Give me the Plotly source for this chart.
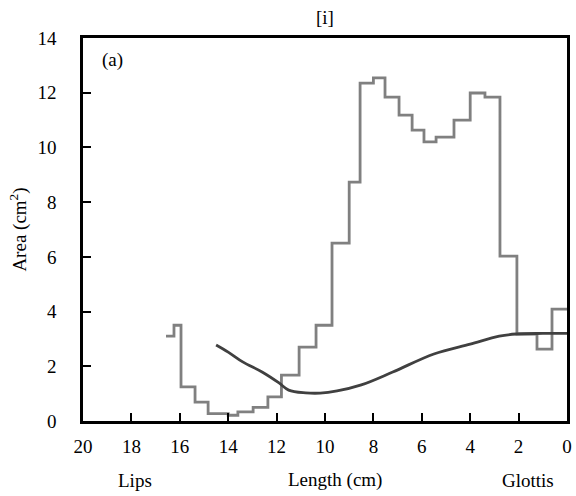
import plotly.graph_objects as go

# Step-wise area function (x = distance from glottis, cm)
step_x = [16.57, 16.24, 15.95, 15.37, 14.83, 14.0, 13.6, 12.97, 12.36, 11.8, 11.07, 10.37,
          9.71, 9.0, 8.55, 8.0, 7.52, 6.94, 6.40, 5.91, 5.41, 4.67, 4.0, 3.39, 2.77, 2.07,
          1.24, 0.62, 0.0]
step_y = [3.1, 3.5, 1.25, 0.69, 0.27, 0.21, 0.33, 0.5, 0.88, 1.68, 2.7, 3.5,
          6.5, 8.73, 12.35, 12.54, 11.84, 11.18, 10.63, 10.2, 10.38, 11.0, 11.99, 11.84, 6.03, 3.18,
          2.63, 4.09, 4.09]

# Smooth curve
curve_x = [14.5, 14.0, 13.4, 12.6, 11.9, 11.5, 10.8, 10.2, 9.5, 8.5, 7.2, 5.5, 4.0, 2.8, 2.1, 1.0, 0.0]
curve_y = [2.78, 2.52, 2.16, 1.79, 1.39, 1.13, 1.03, 1.02, 1.1, 1.32, 1.79, 2.45, 2.81, 3.1, 3.18, 3.2, 3.2]

x_ticks = list(range(0, 21, 2))
y_ticks = list(range(0, 15, 2))

bottom_labels = ["Lips", "Length (cm)", "Glottis"]

FONT = "Liberation Serif"
FS = 19

fig = go.Figure()
fig.add_trace(go.Scatter(x=step_x, y=step_y, mode="lines", line=dict(shape="hv", color="#808080", width=2.8),
                         showlegend=False, hoverinfo="skip"))
fig.add_trace(go.Scatter(x=curve_x, y=curve_y, mode="lines", line=dict(shape="spline", color="#404040", width=2.8),
                         showlegend=False, hoverinfo="skip"))

plot_l, plot_r, plot_t, plot_b = 83, 567, 38, 421
W, H = 576, 496


def px_to_paper(px, py):
    return (px - plot_l) / (plot_r - plot_l), (plot_b - py) / (plot_b - plot_t)


anns = []
for text, px in zip(bottom_labels, [135, 335, 528]):
    xp, yp = px_to_paper(px, 480)
    anns.append(dict(text=text, x=xp, y=yp, xref="paper", yref="paper", showarrow=False,
                     xanchor="center", yanchor="middle", font=dict(family=FONT, size=FS, color="black")))
xa, ya = px_to_paper(112, 60)
anns.append(dict(text="(a)", x=xa, y=ya, xref="paper", yref="paper", showarrow=False,
                 xanchor="center", yanchor="middle", font=dict(family=FONT, size=FS, color="black")))
xt, yt = px_to_paper(325, 18)
anns.append(dict(text="[i]", x=xt, y=yt, xref="paper", yref="paper", showarrow=False,
                 xanchor="center", yanchor="middle", font=dict(family=FONT, size=FS, color="black")))

axis_common = dict(ticks="inside", ticklen=8, tickwidth=1.5, tickcolor="black",
                   showline=True, linecolor="black", linewidth=2.5, mirror=True, showgrid=False,
                   zeroline=False, tickfont=dict(family=FONT, size=FS, color="black"))

fig.update_layout(
    template="none",
    width=W, height=H,
    margin=dict(l=plot_l, r=W - plot_r, t=plot_t, b=H - plot_b, pad=0),
    paper_bgcolor="white", plot_bgcolor="white",
    font=dict(family=FONT, size=FS, color="black"),
    xaxis=dict(range=[20, 0], tickvals=x_ticks, ticklabelstandoff=6, **axis_common),
    yaxis=dict(range=[0, 14], tickvals=y_ticks, ticklabelstandoff=20,
               title=dict(text="Area (cm<sup>2</sup>)", font=dict(family=FONT, size=FS, color="black"),
                          standoff=6),
               **axis_common),
    annotations=anns,
)

fig.write_html("out.html")
